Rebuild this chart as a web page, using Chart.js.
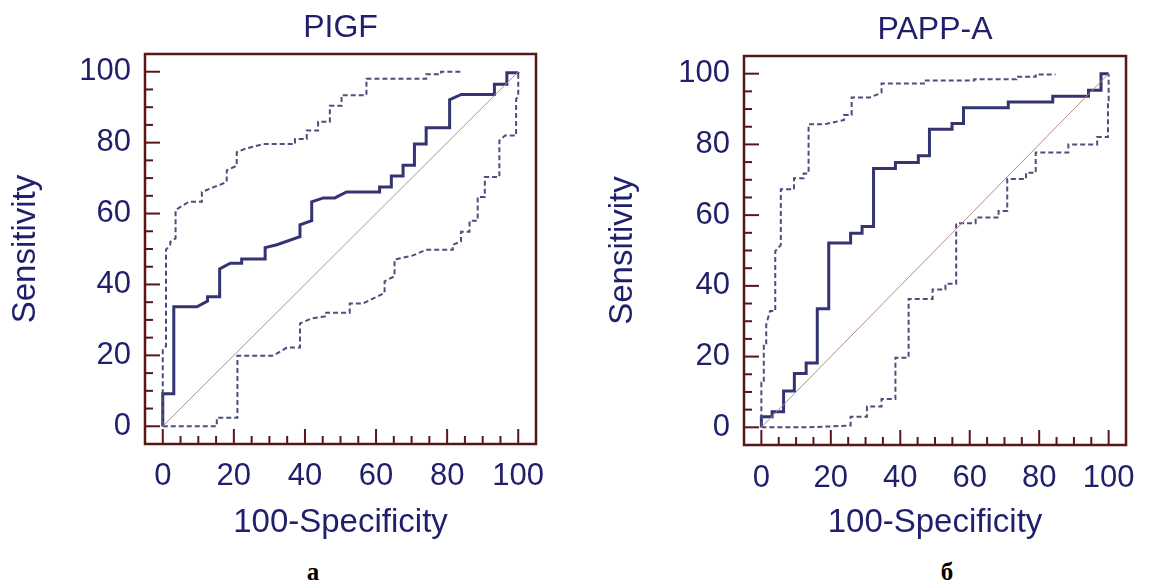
<!DOCTYPE html>
<html>
<head>
<meta charset="utf-8">
<script src="https://cdn.jsdelivr.net/npm/chart.js@4.4.1/dist/chart.umd.min.js"></script>
<style>
body { margin: 0; background: #fff; width: 1150px; height: 581px; position: relative; overflow: hidden; }
canvas { position: absolute; top: 0; }
.cap { position: absolute; top: 559px; font: bold 25px "Liberation Serif", "Times New Roman", serif; line-height: 25px; color: #000; transform: translateX(-50%); }
</style>
</head>
<body>
<canvas id="pigf" width="575" height="550" style="left:0"></canvas>
<canvas id="papp" width="575" height="550" style="left:575px"></canvas>
<div class="cap" style="left:313px">а</div>
<div class="cap" style="left:947px">б</div>
<script>
// ticks
var majorTicks = [0, 20, 40, 60, 80, 100];
var minorTicks = [0, 5, 10, 15, 20, 25, 30, 35, 40, 45, 50, 55, 60, 65, 70, 75, 80, 85, 90, 95, 100];
var diagX = [0, 100];
var diagY = [0, 100];

// PIGF
var pigfRocX = [0, 0, 3.1, 3.1, 9.6, 12.6, 12.6, 16, 16, 19, 22.2, 22.2, 28.8, 28.8, 32.1, 38.6, 38.6, 41.9, 41.9, 45.2, 48.4, 51.7, 61, 61, 64.3, 64.3, 67.6, 67.6, 70.8, 70.8, 74.1, 74.1, 80.7, 80.7, 84, 93.3, 93.3, 96.8, 96.8, 99.9, 100];
var pigfRocY = [0, 9.2, 9.2, 33.7, 33.7, 35.3, 36.5, 36.5, 44.4, 46, 46, 47.2, 47.2, 50.4, 51.2, 53.5, 56.8, 58, 63.3, 64.4, 64.4, 66.1, 66.1, 67.5, 67.5, 70.6, 70.6, 73.6, 73.6, 79.6, 79.6, 84.2, 84.2, 92.1, 93.6, 93.6, 96.5, 96.5, 99.7, 99.7, 100];
var pigfUpX = [0, 0, 0.9, 0.9, 2.1, 2.1, 3.6, 3.6, 7.3, 11, 11, 18, 18, 20.8, 20.8, 23, 28.3, 37.2, 37.2, 40.5, 40.5, 43.7, 43.7, 47, 47, 50.3, 50.3, 57.3, 57.3, 74.1, 74.1, 78.3, 78.3, 84.4];
var pigfUpY = [0, 21.8, 22.5, 49.8, 51.2, 52, 53, 61, 63.3, 63.3, 66.1, 68.9, 72.2, 73.5, 77.3, 78.2, 79.6, 79.6, 81, 81, 83.4, 83.4, 85.9, 85.9, 90.4, 90.4, 93.4, 93.4, 98, 98, 99.3, 99.3, 100, 100];
var pigfLoX = [0, 15.2, 15.2, 21, 21, 31.1, 34.9, 38.6, 38.6, 41.8, 45.6, 45.6, 52.6, 52.6, 56.3, 62.4, 62.4, 65.2, 65.2, 70.4, 74.1, 81.6, 81.6, 83.9, 83.9, 86.3, 86.3, 88.6, 88.6, 90.6, 90.6, 94.7, 94.7, 96.3, 99.4, 99.4, 100, 100];
var pigfLoY = [0, 0, 2.4, 2.4, 19.9, 19.9, 22.2, 22.2, 29, 30.4, 31, 32, 32, 34.6, 34.6, 37.6, 40.9, 42.3, 47, 48.2, 49.8, 49.8, 51.2, 52.1, 54.9, 54.9, 58, 58, 64.7, 64.7, 70.3, 70.3, 80.6, 82, 82, 92.3, 93, 100];

// PAPP-A
var pappRocX = [0, 0, 3.1, 3.1, 6.4, 6.4, 9.5, 9.5, 12.9, 12.9, 16.1, 16.1, 19.4, 19.4, 25.7, 25.7, 29, 29, 32.3, 32.3, 38.6, 38.6, 45.2, 45.2, 48.4, 48.4, 54.9, 54.9, 58.2, 58.2, 71.1, 71.1, 83.9, 83.9, 94.2, 94.2, 97.8, 97.8, 100];
var pappRocY = [0, 3, 3, 4.4, 4.4, 10.3, 10.3, 15.2, 15.2, 18.2, 18.2, 33.5, 33.5, 52.1, 52.1, 54.9, 54.9, 56.8, 56.8, 73.2, 73.2, 74.9, 74.9, 76.8, 76.8, 84.3, 84.3, 85.9, 85.9, 90.4, 90.4, 92, 92, 93.6, 93.6, 95.3, 95.3, 100, 100];
var pappUpX = [0, 0, 0.7, 0.7, 1.4, 1.4, 2.5, 4, 4, 5.6, 5.6, 9.4, 9.4, 12.2, 12.2, 13.6, 13.6, 18.2, 23.8, 23.8, 26, 26, 31.3, 34.6, 34.6, 46.8, 46.8, 61.3, 61.3, 73.4, 73.4, 79, 79, 84.7];
var pappUpY = [0, 12.7, 12.7, 23.5, 23.5, 29.1, 32.9, 32.9, 49.8, 51.6, 67.3, 67.3, 70.4, 70.4, 71.8, 71.8, 85.7, 85.7, 86.9, 88.3, 88.3, 93.3, 93.3, 94.6, 97.2, 97.2, 98.1, 98.1, 98.4, 98.4, 99.1, 99.1, 99.8, 99.8];
var pappLoX = [0, 13.6, 25.7, 25.7, 30.4, 30.4, 34.6, 34.6, 38.6, 38.6, 42.4, 42.4, 49.3, 49.3, 53, 53, 56.1, 56.1, 61.7, 61.7, 68.3, 68.3, 70.8, 70.8, 76.2, 76.2, 79, 79, 88.4, 88.4, 96.7, 96.7, 99.8, 99.8, 100, 100];
var pappLoY = [0, 0, 0.5, 3, 3, 5.9, 5.9, 8, 8, 19.7, 19.7, 36.3, 36.3, 39, 39, 40.6, 40.6, 57.7, 57.7, 59.3, 59.3, 61.2, 61.2, 70.2, 70.2, 72, 72, 77.7, 77.7, 80, 80, 82.1, 82.1, 92.4, 92.4, 100];

var textColor = '#1f1f6b';
var frameColor = '#5a1515';
var fontName = '"Liberation Sans", Arial, sans-serif';

function pts(xs, ys){
    return xs.map(function(v, i){ return {x: v, y: ys[i]}; });
}

var framePlugin = {
    id: 'frame',
    afterDatasetsDraw: function(chart){
        var ctx = chart.ctx;
        var a = chart.chartArea;
        var sx = chart.scales.x;
        var sy = chart.scales.y;
        ctx.save();
        ctx.strokeStyle = frameColor;
        ctx.lineWidth = 2;
        minorTicks.forEach(function(v){
            var len = majorTicks.indexOf(v) >= 0 ? 15 : 8;
            var px = sx.getPixelForValue(v);
            ctx.beginPath();
            ctx.moveTo(px, a.bottom);
            ctx.lineTo(px, a.bottom - len);
            ctx.stroke();
            var py = sy.getPixelForValue(v);
            ctx.beginPath();
            ctx.moveTo(a.left, py);
            ctx.lineTo(a.left + len, py);
            ctx.stroke();
        });
        ctx.lineWidth = 2.5;
        ctx.strokeRect(a.left, a.top, a.right - a.left, a.bottom - a.top);
        ctx.restore();
    }
};

function createRoc(id, title, roc, up, lo, diagColor, lay){
    new Chart(document.getElementById(id), {
        type: 'scatter',
        data: {
            datasets: [
                { data: pts(diagX, diagY), showLine: true, borderColor: diagColor, borderWidth: 1, pointRadius: 0 },
                { data: up, showLine: true, borderColor: '#4d4d80', borderWidth: 2, borderDash: [5, 3], pointRadius: 0 },
                { data: lo, showLine: true, borderColor: '#4d4d80', borderWidth: 2, borderDash: [5, 3], pointRadius: 0 },
                { data: roc, showLine: true, borderColor: '#343472', borderWidth: 3, pointRadius: 0 }
            ]
        },
        options: {
            animation: false,
            responsive: false,
            layout: { padding: { left: 0, right: lay.right, top: 0, bottom: 0 } },
            plugins: {
                legend: { display: false },
                tooltip: { enabled: false },
                title: {
                    display: true,
                    text: title,
                    fullSize: false,
                    color: textColor,
                    font: { family: fontName, size: 32, weight: 'normal' },
                    padding: { top: lay.titleTop, bottom: lay.titleBottom }
                }
            },
            scales: {
                x: {
                    type: 'linear',
                    min: -5,
                    max: 105,
                    grid: { display: false, drawTicks: false },
                    border: { display: false },
                    ticks: { stepSize: 20, includeBounds: false, autoSkip: false, maxRotation: 0, color: textColor, padding: lay.xTickPad, font: { family: fontName, size: 31 } },
                    title: { display: true, text: '100-Specificity', color: textColor, font: { family: fontName, size: 33 }, padding: { top: 0, bottom: 7 } },
                    afterFit: function(s){ s.height = lay.xHeight; }
                },
                y: {
                    type: 'linear',
                    min: -5,
                    max: 105,
                    grid: { display: false, drawTicks: false },
                    border: { display: false },
                    ticks: { stepSize: 20, includeBounds: false, autoSkip: false, color: textColor, padding: 14, font: { family: fontName, size: 31 } },
                    title: { display: true, text: 'Sensitivity', color: textColor, font: { family: fontName, size: 33 }, padding: { top: lay.yTitlePad, bottom: 0 } },
                    afterFit: function(s){ s.width = lay.yWidth; }
                }
            }
        },
        plugins: [framePlugin]
    });
}

createRoc('pigf', 'PIGF', pts(pigfRocX, pigfRocY), pts(pigfUpX, pigfUpY), pts(pigfLoX, pigfLoY), '#a89494',
    { right: 39, titleTop: 8.8, titleBottom: 6.8, xTickPad: 13.4, xHeight: 106, yWidth: 145, yTitlePad: 6 });
createRoc('papp', 'PAPP-A', pts(pappRocX, pappRocY), pts(pappUpX, pappUpY), pts(pappLoX, pappLoY), '#b58a8a',
    { right: 15, titleTop: 10.8, titleBottom: 6.8, xTickPad: 14.4, xHeight: 105, yWidth: 169, yTitlePad: 28 });
</script>
</body>
</html>
